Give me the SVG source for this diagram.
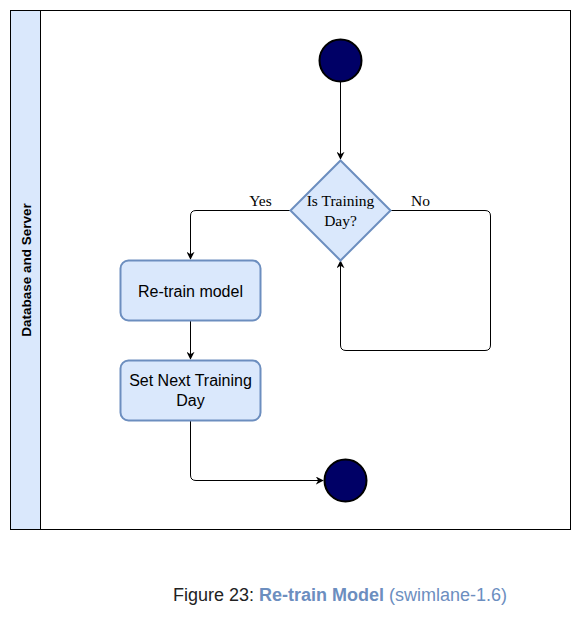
<svg xmlns="http://www.w3.org/2000/svg" width="581" height="621" viewBox="0 0 581 621">
<style>
.lane{fill:#fff;stroke:#000;stroke-width:1}
.hdr{fill:#dae8fc;stroke:#000;stroke-width:1}
.box{fill:#dae8fc;stroke:#6c8ebf;stroke-width:2}
.dot{fill:#000066;stroke:#000;stroke-width:2}
.edge{fill:none;stroke:#000;stroke-width:1}
.sans{font-family:"Liberation Sans",Arial,sans-serif}
.serif{font-family:"Liberation Serif","Times New Roman",serif}
</style>
<defs>
<marker id="arr" viewBox="0 0 10 10" refX="9" refY="5" markerWidth="8" markerHeight="8" markerUnits="userSpaceOnUse" orient="auto">
<path d="M0,0 L10,5 L0,10 L3,5 Z" fill="#000"/>
</marker>
</defs>
<rect width="581" height="621" fill="#fff"/>
<g id="lane">
<rect class="lane" x="10.5" y="10.5" width="560" height="519"/>
<rect class="hdr" x="10.5" y="10.5" width="30" height="519"/>
<text class="sans" x="0" y="0" transform="translate(30.5,270) rotate(-90)" text-anchor="middle" font-size="13.5" font-weight="bold">Database and Server</text>
</g>
<g id="connectors">
<path class="edge" d="M340.5,81 V159" marker-end="url(#arr)"/>
<path class="edge" d="M290,210.5 H196 Q190.5,210.5 190.5,216 V259" marker-end="url(#arr)"/>
<path class="edge" d="M390,210.5 H485 Q490.5,210.5 490.5,216 V345 Q490.5,350.5 485,350.5 H346 Q340.5,350.5 340.5,345 V261" marker-end="url(#arr)"/>
<path class="edge" d="M190.5,320 V359" marker-end="url(#arr)"/>
<path class="edge" d="M190.5,420 V475 Q190.5,480.5 196,480.5 H323" marker-end="url(#arr)"/>
<text class="serif" x="260.5" y="205.5" text-anchor="middle" font-size="15.5">Yes</text>
<text class="serif" x="420.5" y="205.5" text-anchor="middle" font-size="15.5">No</text>
</g>
<g id="start">
<circle class="dot" cx="340.5" cy="60.5" r="21"/>
</g>
<g id="decision">
<polygon class="box" points="340.5,160.5 390.5,210.5 340.5,260.5 290.5,210.5"/>
<text class="serif" x="340.5" y="206" text-anchor="middle" font-size="15.5">Is Training</text>
<text class="serif" x="340.5" y="226" text-anchor="middle" font-size="15.5">Day?</text>
</g>
<g id="retrain">
<rect class="box" x="120.5" y="260.5" width="140" height="60" rx="8"/>
<text class="sans" x="190.5" y="297" text-anchor="middle" font-size="16">Re-train model</text>
</g>
<g id="setnext">
<rect class="box" x="120.5" y="360.5" width="140" height="60" rx="8"/>
<text class="sans" x="190.5" y="386" text-anchor="middle" font-size="16">Set Next Training</text>
<text class="sans" x="190.5" y="406" text-anchor="middle" font-size="16">Day</text>
</g>
<g id="end">
<circle class="dot" cx="345.5" cy="480.5" r="21"/>
</g>
<text class="sans" x="173" y="601" font-size="18" fill="#222">Figure 23: <tspan font-weight="bold" fill="#6c8ebf">Re-train Model</tspan><tspan fill="#6c8ebf"> (swimlane-1.6)</tspan></text>
</svg>
